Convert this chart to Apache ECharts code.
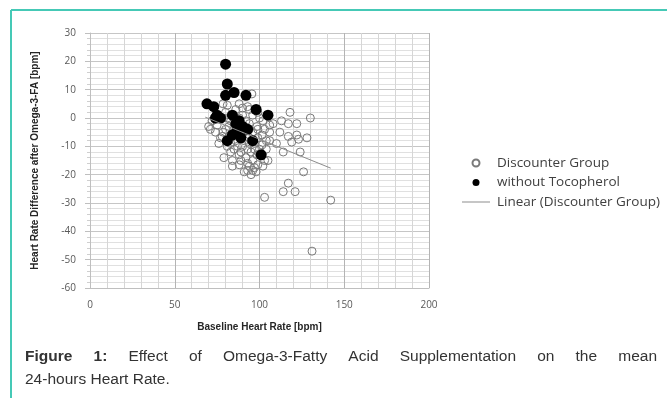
<!DOCTYPE html>
<html>
<head>
<meta charset="utf-8">
<script src="https://cdn.jsdelivr.net/npm/echarts@6/dist/echarts.min.js"></script>
<style>html,body{margin:0;background:#fff}#graph{width:667px;height:398px}</style>
</head>
<body>
<div id="graph"></div>
<script>
"use strict"

// Discounter Group (open circles)
const discounter = [
    [118, 2], [130, 0], [113, -1], [117, -2], [122, -2], [106, -5], [117, -6.5], [122, -6], [123, -7.5],
    [128, -7], [119, -8.5], [110, -9], [114, -12], [124, -12], [105, -15], [126, -19], [117, -23],
    [114, -26], [121, -26], [103, -28], [142, -29], [131, -47], [104, -8], [108, -2], [112, -5],
    [81, 4.5], [90, 3.5], [94, 3], [93, 4], [78.5, 5], [95.5, 8.5], [88, 5], [99, 2], [86, 3],
    [70, -3], [71, -4], [72, -1], [75, -2.5], [77, -7], [78, 0], [78.5, -5], [78, -6.5], [81, 0],
    [80, 2], [83, -12], [83, -9], [84, -15], [79, -14], [84, -17], [88, -16.5], [91, -19], [93, -18.5],
    [96, -18.5], [97, -17.5], [99, -16.5], [96, -15], [103, -15], [97, -11], [101.5, -9.5], [90, -5],
    [94, -4], [98.5, -3], [101.5, -6], [106, -2.5], [94, -7], [94, -9], [90, -10], [87, -10], [98.5, -13],
    [94, -2], [102, -1], [106, -8], [89, -12], [92, -14], [95, -12], [100, -11], [85, -3], [87, -6],
    [96, -5], [91, -8], [99, -7], [92, -1], [88, 0], [96, 1], [100, 0], [103, -4], [82, -3], [86, -8],
    [76, -9], [81, -10], [88, -13], [93, -16], [97, -9], [100, -13], [102, -17], [95, -20], [98, -19],
    [85, -11], [80, -4], [74, -5], [83, -1], [90, 1], [98, 3], [104, -11], [91, -3], [93, -11], [99, -4],
    [89, -15], [94, -17]
];
// without Tocopherol (filled circles)
const withoutToco = [
    [80, 19], [81, 12], [80, 8], [85, 9], [92, 8], [69, 5], [73, 4], [98, 3], [105, 1], [75, 1],
    [77, 0], [84, 1], [88, -1], [87, -4], [93, -4], [84, -6], [89, -7], [81, -8], [96, -8], [101, -13],
    [74, 0], [90, -3], [86, -2]
];
// Linear (Discounter Group) end points
const trend = [[68, 0.3], [142, -17.7]];

const seriesNames = ["Discounter Group", "without Tocopherol", "Linear (Discounter Group)"];
const xName = "Baseline Heart Rate [bpm]";
const yName = "Heart Rate Difference after Omega-3-FA [bpm]";
const captionWords = [["Figure", true], ["1:", true], ["Effect", false], ["of", false], ["Omega-3-Fatty", false],
    ["Acid", false], ["Supplementation", false], ["on", false], ["the", false], ["mean", false]];
const captionLine2 = "24-hours Heart Rate.";

const capFont = "Liberation Sans, Arial, sans-serif";
const capSize = 15.5;
const teal = "#45c9b6";

function captionGraphics()
{
    const ctx = document.createElement("canvas").getContext("2d");
    const widths = captionWords.map(([w, b]) =>
    {
        ctx.font = (b ? "bold " : "") + capSize + "px " + capFont;
        return ctx.measureText(w).width;
    });
    const left = 25, right = 657;
    const gap = (right - left - widths.reduce((a, c) => a + c, 0)) / (captionWords.length - 1);
    let x = left;
    const els = captionWords.map(([w, b], i) =>
    {
        const el = {
            type: "text", x: x, y: 357,
            style: { text: w, fontSize: capSize, fontWeight: b ? "bold" : "normal", fontFamily: capFont, fill: "#333", verticalAlign: "middle" }
        };
        x += widths[i] + gap;
        return el;
    });
    els.push({
        type: "text", x: left, y: 380,
        style: { text: captionLine2, fontSize: capSize, fontFamily: capFont, fill: "#333", verticalAlign: "middle" }
    });
    return els;
}

const chart = echarts.init(document.getElementById("graph"), null, { renderer: "canvas" });
const labelStyle = { color: "#595959", fontSize: 10, fontFamily: "Open Sans, sans-serif" };
const nameStyle = { color: "#262626", fontSize: 10, fontWeight: "bold", fontFamily: "Liberation Sans, Arial, sans-serif" };

chart.setOption({
    animation: false,
    backgroundColor: "#fff",
    grid: { left: 90, right: 238, top: 33, bottom: 110 },
    legend: {
        orient: "vertical", left: 462, top: 156, padding: 0, itemWidth: 28, itemHeight: 7, itemGap: 5.5,
        textStyle: { color: "#404040", fontSize: 13.5, fontFamily: "Open Sans, sans-serif", padding: [0, 0, 0, 2] },
        data: [
            { name: seriesNames[0], icon: "circle" },
            { name: seriesNames[1], icon: "circle" },
            { name: seriesNames[2], icon: "path://M0,0H28V1H0Z" }
        ]
    },
    xAxis: {
        type: "value", min: 0, max: 200, interval: 50,
        name: xName, nameLocation: "middle", nameGap: 34, nameTextStyle: nameStyle,
        axisLine: { onZero: false, lineStyle: { color: "#bfbfbf" } },
        axisTick: { show: false },
        axisLabel: Object.assign({ margin: 12 }, labelStyle),
        splitLine: { lineStyle: { color: "#b4b4b4", width: 1 } },
        minorTick: { show: false, splitNumber: 5 },
        minorSplitLine: { show: true, lineStyle: { color: "#d6d6d6", width: 1 } }
    },
    yAxis: {
        type: "value", min: -60, max: 30, interval: 10,
        name: yName, nameLocation: "middle", nameGap: 50, nameTextStyle: nameStyle,
        axisLine: { show: true, onZero: false, lineStyle: { color: "#bfbfbf" } },
        axisTick: { show: true, length: 5, lineStyle: { color: "#bfbfbf" } },
        minorTick: { show: true, splitNumber: 5, length: 3, lineStyle: { color: "#cfcfcf" } },
        axisLabel: Object.assign({ margin: 14 }, labelStyle),
        splitLine: { lineStyle: { color: "#c6c6c6", width: 1 } },
        minorSplitLine: { show: true, lineStyle: { color: "#e0e0e0", width: 1 } }
    },
    graphic: [
        { type: "line", shape: { x1: 11, y1: 10, x2: 667, y2: 10 }, style: { stroke: teal, lineWidth: 2 } },
        { type: "line", shape: { x1: 11, y1: 10, x2: 11, y2: 398 }, style: { stroke: teal, lineWidth: 2 } }
    ].concat(captionGraphics()),
    series: [
        {
            name: seriesNames[0], type: "scatter", data: discounter, symbolSize: 8, z: 2,
            itemStyle: { color: "rgba(255,255,255,0)", opacity: 1, borderColor: "#7a7a7a", borderWidth: 1 }
        },
        {
            name: seriesNames[1], type: "scatter", data: withoutToco, symbolSize: 11, z: 3,
            itemStyle: { color: "#000", opacity: 1 }
        },
        {
            name: seriesNames[2], type: "line", data: trend, symbol: "none", z: 4,
            itemStyle: { color: "#8c8c8c" },
            lineStyle: { color: "#8c8c8c", width: 1 }
        }
    ]
});
</script>
</body>
</html>
